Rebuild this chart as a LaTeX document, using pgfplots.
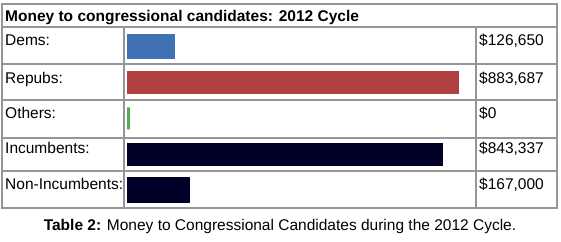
\documentclass[border=0pt]{standalone}
\usepackage{pgfplots}
\pgfplotsset{compat=1.18}
\usepackage{fontspec}
\setmainfont{Liberation Sans}
\definecolor{demblue}{RGB}{65,113,181}
\definecolor{repred}{RGB}{179,64,64}
\definecolor{othgreen}{RGB}{76,175,80}
\definecolor{incnavy}{RGB}{0,0,40}
\definecolor{gridgray}{RGB}{150,150,150}
\begin{document}
\begin{tikzpicture}[x=1bp,y=1bp]
\fontsize{15.5bp}{18bp}\selectfont
\path[use as bounding box] (0,0) rectangle (561,241);
% table frame
\draw[gridgray,line width=1.3bp] (2,33) rectangle (557,237);
\draw[gridgray,line width=1.3bp] (2,214) -- (557,214);
\foreach \yy in {177,141,103,70} \draw[gridgray,line width=1.3bp] (2,\yy) -- (557,\yy);
\draw[gridgray,line width=1.3bp] (124,214) -- (124,33);
\draw[gridgray,line width=1.3bp] (476,214) -- (476,33);
% title
\node[anchor=base west,inner sep=0pt] at (5,220) {\bfseries Money to congressional candidates: 2012 Cycle};
% labels
\node[anchor=base west,inner sep=0pt] at (5,196) {Dems:};
\node[anchor=base west,inner sep=0pt] at (5,158) {Repubs:};
\node[anchor=base west,inner sep=0pt] at (5,123) {Others:};
\node[anchor=base west,inner sep=0pt] at (5,88) {Incumbents:};
\node[anchor=base west,inner sep=0pt] at (5,52) {Non-Incumbents:};
% values
\node[anchor=base west,inner sep=0pt] at (479,196) {\$126,650};
\node[anchor=base west,inner sep=0pt] at (479,158) {\$883,687};
\node[anchor=base west,inner sep=0pt] at (479,123) {\$0};
\node[anchor=base west,inner sep=0pt] at (479,88) {\$843,337};
\node[anchor=base west,inner sep=0pt] at (479,52) {\$167,000};
% caption
\node[anchor=base,inner sep=0pt] at (280,11) {\textbf{Table 2:} Money to Congressional Candidates during the 2012 Cycle.};
\begin{axis}[
  at={(127bp,0bp)}, anchor=south west,
  scale only axis, width=335bp, height=241bp,
  xmin=0, xmax=893000, ymin=0, ymax=241,
  hide axis, clip=false,
  xbar, bar shift=0pt,
]
\addplot[fill=demblue, draw=none, bar width=25] coordinates {(126650,194.5)};
\addplot[fill=repred, draw=none, bar width=23] coordinates {(883687,158.5)};
\addplot[fill=othgreen, draw=othgreen, line width=3bp, bar width=22, xshift=1.5bp] coordinates {(0,122.5)};
\addplot[fill=incnavy, draw=none, bar width=23] coordinates {(843337,86.5)};
\addplot[fill=incnavy, draw=none, bar width=26] coordinates {(167000,51)};
\end{axis}
\end{tikzpicture}
\end{document}
